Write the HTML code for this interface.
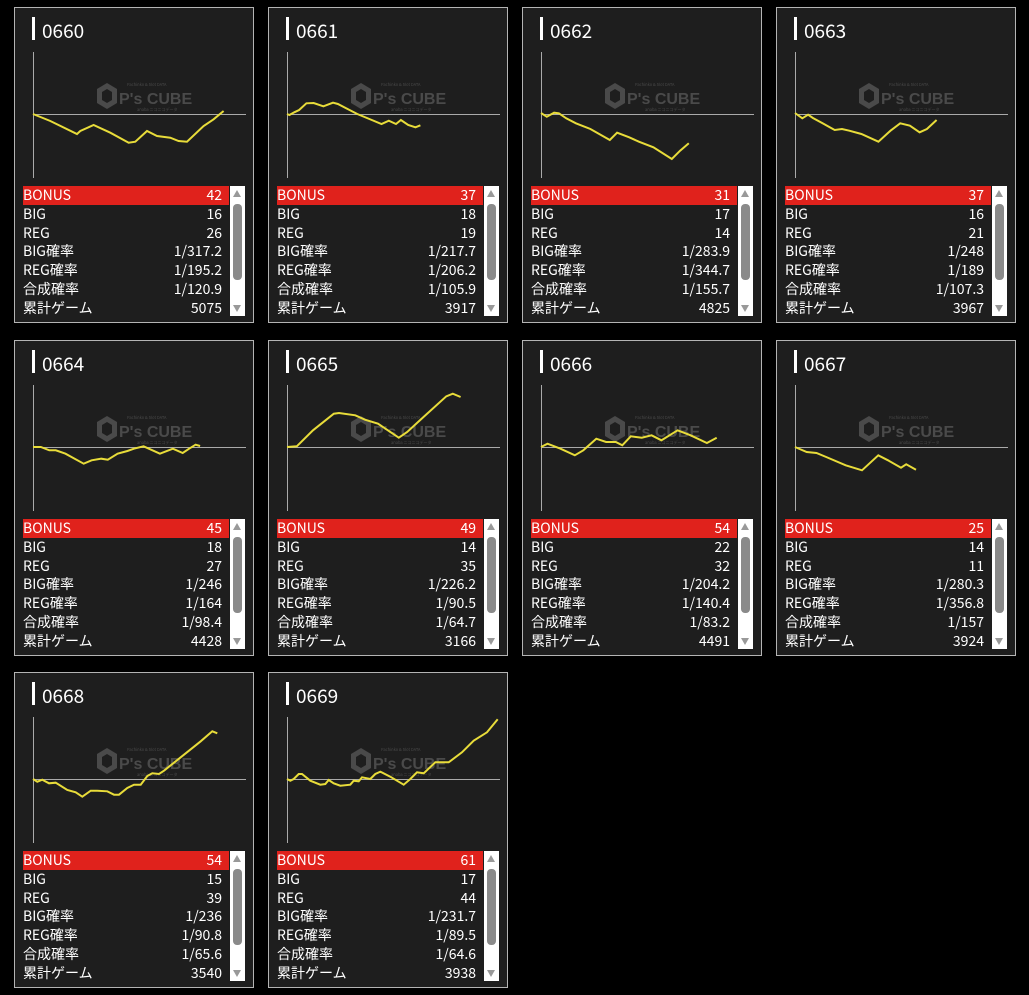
<!DOCTYPE html>
<html><head><meta charset="utf-8"><style>
body{margin:0;background:#000;width:1029px;height:995px;position:relative;overflow:hidden;font-family:"Noto Sans CJK JP","Liberation Sans",sans-serif;}
.c{position:absolute;width:238px;height:314px;border:1px solid #b4b4b4;background:#1e1e1e;}
.bar{position:absolute;left:17px;top:9px;width:3px;height:23px;background:#fff;}
.t{position:absolute;left:27px;top:11px;font-size:19px;line-height:23px;color:#fff;}
svg.g{position:absolute;left:0;top:0;}
.tb{position:absolute;left:8px;top:178px;width:206px;}
.r{height:18.8px;line-height:18.8px;font-size:14px;color:#fff;position:relative;white-space:nowrap;}
.r span{position:absolute;right:7px;top:0;}
.r.b{background:#e0221c;}
.sb{position:absolute;left:215px;top:178px;width:15px;height:130px;background:#fff;}
.th{position:absolute;left:3px;top:18px;width:9px;height:76px;background:#8a8a8a;border-radius:4px;}
.up{position:absolute;left:3px;top:4px;width:0;height:0;border-left:4.5px solid transparent;border-right:4.5px solid transparent;border-bottom:7px solid #999;}
.dn{position:absolute;left:3px;bottom:4px;width:0;height:0;border-left:4.5px solid transparent;border-right:4.5px solid transparent;border-top:7px solid #999;}
</style></head><body>

<div class="c" style="left:14px;top:7px"><div class="bar"></div><div class="t">0660</div>
<svg class="g" width="238" height="180"><g fill="#4a4a4a"><polygon points="92,75 102,81 102,95 92,101 82,95 82,81"/><polygon points="92,81 97,84 97,92 92,95 87,92 87,84" fill="#1e1e1e"/><text x="104" y="96" font-size="16" font-weight="bold" font-family="Liberation Sans">P's CUBE</text><text x="112" y="78" font-size="4">Pachinko &amp; Slot DATA</text><text x="122" y="103" font-size="4">anaba ニコニコデータ</text></g><line x1="18.5" y1="44" x2="18.5" y2="170" stroke="#aaa"/><line x1="18" y1="106.5" x2="231" y2="106.5" stroke="#aaa"/>
<polyline transform="translate(18,106) scale(1,-1)" fill="none" stroke="#e8dc3a" stroke-width="2" points="0,0 17.3,-7 44,-20 47.3,-17 60.6,-11 77.3,-18.7 95.6,-28.7 102.3,-27.7 114,-17 124,-22 137.3,-23.7 145.6,-27 154,-27.7 170.6,-12 180.6,-5.3 190.6,3"/></svg>
<div class="tb"><div class="r b">BONUS<span>42</span></div><div class="r">BIG<span>16</span></div><div class="r">REG<span>26</span></div><div class="r">BIG確率<span>1/317.2</span></div><div class="r">REG確率<span>1/195.2</span></div><div class="r">合成確率<span>1/120.9</span></div><div class="r">累計ゲーム<span>5075</span></div></div>
<div class="sb"><div class="up"></div><div class="th"></div><div class="dn"></div></div></div>

<div class="c" style="left:268px;top:7px"><div class="bar"></div><div class="t">0661</div>
<svg class="g" width="238" height="180"><g fill="#4a4a4a"><polygon points="92,75 102,81 102,95 92,101 82,95 82,81"/><polygon points="92,81 97,84 97,92 92,95 87,92 87,84" fill="#1e1e1e"/><text x="104" y="96" font-size="16" font-weight="bold" font-family="Liberation Sans">P's CUBE</text><text x="112" y="78" font-size="4">Pachinko &amp; Slot DATA</text><text x="122" y="103" font-size="4">anaba ニコニコデータ</text></g><line x1="18.5" y1="44" x2="18.5" y2="170" stroke="#aaa"/><line x1="18" y1="106.5" x2="231" y2="106.5" stroke="#aaa"/>
<polyline transform="translate(18,106) scale(1,-1)" fill="none" stroke="#e8dc3a" stroke-width="2" points="0,0 2.4,-1 7.3,1.7 12.1,4 19.4,10.7 26.7,11 36.4,7.7 46,11.3 50.9,10 60.6,5 70.3,0 84.8,-6 94.5,-10 101.8,-6.7 109,-10 113.9,-6 121.2,-11 128.5,-13.3 133.4,-11.3"/></svg>
<div class="tb"><div class="r b">BONUS<span>37</span></div><div class="r">BIG<span>18</span></div><div class="r">REG<span>19</span></div><div class="r">BIG確率<span>1/217.7</span></div><div class="r">REG確率<span>1/206.2</span></div><div class="r">合成確率<span>1/105.9</span></div><div class="r">累計ゲーム<span>3917</span></div></div>
<div class="sb"><div class="up"></div><div class="th"></div><div class="dn"></div></div></div>

<div class="c" style="left:522px;top:7px"><div class="bar"></div><div class="t">0662</div>
<svg class="g" width="238" height="180"><g fill="#4a4a4a"><polygon points="92,75 102,81 102,95 92,101 82,95 82,81"/><polygon points="92,81 97,84 97,92 92,95 87,92 87,84" fill="#1e1e1e"/><text x="104" y="96" font-size="16" font-weight="bold" font-family="Liberation Sans">P's CUBE</text><text x="112" y="78" font-size="4">Pachinko &amp; Slot DATA</text><text x="122" y="103" font-size="4">anaba ニコニコデータ</text></g><line x1="18.5" y1="44" x2="18.5" y2="170" stroke="#aaa"/><line x1="18" y1="106.5" x2="231" y2="106.5" stroke="#aaa"/>
<polyline transform="translate(18,106) scale(1,-1)" fill="none" stroke="#e8dc3a" stroke-width="2" points="0,1 5.8,-2.7 13.1,1.3 17.9,0.7 25.2,-4.3 34.9,-9.3 49.4,-15 68.8,-26 76.1,-18.7 88.2,-23.3 97.9,-27.7 112.4,-33.3 130.8,-45 139.1,-36.7 147.8,-29.3"/></svg>
<div class="tb"><div class="r b">BONUS<span>31</span></div><div class="r">BIG<span>17</span></div><div class="r">REG<span>14</span></div><div class="r">BIG確率<span>1/283.9</span></div><div class="r">REG確率<span>1/344.7</span></div><div class="r">合成確率<span>1/155.7</span></div><div class="r">累計ゲーム<span>4825</span></div></div>
<div class="sb"><div class="up"></div><div class="th"></div><div class="dn"></div></div></div>

<div class="c" style="left:776px;top:7px"><div class="bar"></div><div class="t">0663</div>
<svg class="g" width="238" height="180"><g fill="#4a4a4a"><polygon points="92,75 102,81 102,95 92,101 82,95 82,81"/><polygon points="92,81 97,84 97,92 92,95 87,92 87,84" fill="#1e1e1e"/><text x="104" y="96" font-size="16" font-weight="bold" font-family="Liberation Sans">P's CUBE</text><text x="112" y="78" font-size="4">Pachinko &amp; Slot DATA</text><text x="122" y="103" font-size="4">anaba ニコニコデータ</text></g><line x1="18.5" y1="44" x2="18.5" y2="170" stroke="#aaa"/><line x1="18" y1="106.5" x2="231" y2="106.5" stroke="#aaa"/>
<polyline transform="translate(18,106) scale(1,-1)" fill="none" stroke="#e8dc3a" stroke-width="2" points="0,1 7.3,-4.3 13.1,-0.7 17.9,-4 27.6,-9.3 39.7,-16 47,-15 54.3,-16.7 66.4,-20 83.4,-27.7 95.5,-16.7 105.2,-9.3 114.9,-11.7 124.6,-18.3 131.9,-15 141.6,-6"/></svg>
<div class="tb"><div class="r b">BONUS<span>37</span></div><div class="r">BIG<span>16</span></div><div class="r">REG<span>21</span></div><div class="r">BIG確率<span>1/248</span></div><div class="r">REG確率<span>1/189</span></div><div class="r">合成確率<span>1/107.3</span></div><div class="r">累計ゲーム<span>3967</span></div></div>
<div class="sb"><div class="up"></div><div class="th"></div><div class="dn"></div></div></div>

<div class="c" style="left:14px;top:340px"><div class="bar"></div><div class="t">0664</div>
<svg class="g" width="238" height="180"><g fill="#4a4a4a"><polygon points="92,75 102,81 102,95 92,101 82,95 82,81"/><polygon points="92,81 97,84 97,92 92,95 87,92 87,84" fill="#1e1e1e"/><text x="104" y="96" font-size="16" font-weight="bold" font-family="Liberation Sans">P's CUBE</text><text x="112" y="78" font-size="4">Pachinko &amp; Slot DATA</text><text x="122" y="103" font-size="4">anaba ニコニコデータ</text></g><line x1="18.5" y1="44" x2="18.5" y2="170" stroke="#aaa"/><line x1="18" y1="106.5" x2="231" y2="106.5" stroke="#aaa"/>
<polyline transform="translate(18,106) scale(1,-1)" fill="none" stroke="#e8dc3a" stroke-width="2" points="0,0 7.8,0 16.3,-3.3 22.8,-3.3 32.5,-6.7 50.7,-16.7 58.6,-13.3 68.3,-11.7 74.8,-12.7 84.6,-6.7 94.4,-4 100.9,-1.7 110.6,0.7 126.9,-6.7 139.9,-1.7 149.7,-6 156.1,-1.7 162.6,2.3 167.1,1"/></svg>
<div class="tb"><div class="r b">BONUS<span>45</span></div><div class="r">BIG<span>18</span></div><div class="r">REG<span>27</span></div><div class="r">BIG確率<span>1/246</span></div><div class="r">REG確率<span>1/164</span></div><div class="r">合成確率<span>1/98.4</span></div><div class="r">累計ゲーム<span>4428</span></div></div>
<div class="sb"><div class="up"></div><div class="th"></div><div class="dn"></div></div></div>

<div class="c" style="left:268px;top:340px"><div class="bar"></div><div class="t">0665</div>
<svg class="g" width="238" height="180"><g fill="#4a4a4a"><polygon points="92,75 102,81 102,95 92,101 82,95 82,81"/><polygon points="92,81 97,84 97,92 92,95 87,92 87,84" fill="#1e1e1e"/><text x="104" y="96" font-size="16" font-weight="bold" font-family="Liberation Sans">P's CUBE</text><text x="112" y="78" font-size="4">Pachinko &amp; Slot DATA</text><text x="122" y="103" font-size="4">anaba ニコニコデータ</text></g><line x1="18.5" y1="44" x2="18.5" y2="170" stroke="#aaa"/><line x1="18" y1="106.5" x2="231" y2="106.5" stroke="#aaa"/>
<polyline transform="translate(18,106) scale(1,-1)" fill="none" stroke="#e8dc3a" stroke-width="2" points="0,0 9.8,0.7 26,16.7 46.8,33.3 52,34 68.3,31.7 78,27.3 91,23.3 111.8,9.3 120.2,15 136.5,30 159.3,50.7 165.8,53.3 173.6,50"/></svg>
<div class="tb"><div class="r b">BONUS<span>49</span></div><div class="r">BIG<span>14</span></div><div class="r">REG<span>35</span></div><div class="r">BIG確率<span>1/226.2</span></div><div class="r">REG確率<span>1/90.5</span></div><div class="r">合成確率<span>1/64.7</span></div><div class="r">累計ゲーム<span>3166</span></div></div>
<div class="sb"><div class="up"></div><div class="th"></div><div class="dn"></div></div></div>

<div class="c" style="left:522px;top:340px"><div class="bar"></div><div class="t">0666</div>
<svg class="g" width="238" height="180"><g fill="#4a4a4a"><polygon points="92,75 102,81 102,95 92,101 82,95 82,81"/><polygon points="92,81 97,84 97,92 92,95 87,92 87,84" fill="#1e1e1e"/><text x="104" y="96" font-size="16" font-weight="bold" font-family="Liberation Sans">P's CUBE</text><text x="112" y="78" font-size="4">Pachinko &amp; Slot DATA</text><text x="122" y="103" font-size="4">anaba ニコニコデータ</text></g><line x1="18.5" y1="44" x2="18.5" y2="170" stroke="#aaa"/><line x1="18" y1="106.5" x2="231" y2="106.5" stroke="#aaa"/>
<polyline transform="translate(18,106) scale(1,-1)" fill="none" stroke="#e8dc3a" stroke-width="2" points="0,0 6.5,3.3 19.5,-1.7 33.8,-8.3 42.3,-3.3 55.3,8.3 65.1,5 74.8,5 81.3,1.7 89.8,10.7 100.8,9.3 110.6,11.7 120.4,6.7 136.6,16.7 149.6,11.7 165.9,4 175.7,9.3"/></svg>
<div class="tb"><div class="r b">BONUS<span>54</span></div><div class="r">BIG<span>22</span></div><div class="r">REG<span>32</span></div><div class="r">BIG確率<span>1/204.2</span></div><div class="r">REG確率<span>1/140.4</span></div><div class="r">合成確率<span>1/83.2</span></div><div class="r">累計ゲーム<span>4491</span></div></div>
<div class="sb"><div class="up"></div><div class="th"></div><div class="dn"></div></div></div>

<div class="c" style="left:776px;top:340px"><div class="bar"></div><div class="t">0667</div>
<svg class="g" width="238" height="180"><g fill="#4a4a4a"><polygon points="92,75 102,81 102,95 92,101 82,95 82,81"/><polygon points="92,81 97,84 97,92 92,95 87,92 87,84" fill="#1e1e1e"/><text x="104" y="96" font-size="16" font-weight="bold" font-family="Liberation Sans">P's CUBE</text><text x="112" y="78" font-size="4">Pachinko &amp; Slot DATA</text><text x="122" y="103" font-size="4">anaba ニコニコデータ</text></g><line x1="18.5" y1="44" x2="18.5" y2="170" stroke="#aaa"/><line x1="18" y1="106.5" x2="231" y2="106.5" stroke="#aaa"/>
<polyline transform="translate(18,106) scale(1,-1)" fill="none" stroke="#e8dc3a" stroke-width="2" points="0,0 11.7,-5 21.5,-6 31.2,-10 50.7,-18.3 67,-23.3 83.3,-8.3 93,-13.3 106,-20.7 111.2,-17.3 121,-22.7"/></svg>
<div class="tb"><div class="r b">BONUS<span>25</span></div><div class="r">BIG<span>14</span></div><div class="r">REG<span>11</span></div><div class="r">BIG確率<span>1/280.3</span></div><div class="r">REG確率<span>1/356.8</span></div><div class="r">合成確率<span>1/157</span></div><div class="r">累計ゲーム<span>3924</span></div></div>
<div class="sb"><div class="up"></div><div class="th"></div><div class="dn"></div></div></div>

<div class="c" style="left:14px;top:672px"><div class="bar"></div><div class="t">0668</div>
<svg class="g" width="238" height="180"><g fill="#4a4a4a"><polygon points="92,75 102,81 102,95 92,101 82,95 82,81"/><polygon points="92,81 97,84 97,92 92,95 87,92 87,84" fill="#1e1e1e"/><text x="104" y="96" font-size="16" font-weight="bold" font-family="Liberation Sans">P's CUBE</text><text x="112" y="78" font-size="4">Pachinko &amp; Slot DATA</text><text x="122" y="103" font-size="4">anaba ニコニコデータ</text></g><line x1="18.5" y1="44" x2="18.5" y2="170" stroke="#aaa"/><line x1="18" y1="106.5" x2="231" y2="106.5" stroke="#aaa"/>
<polyline transform="translate(18,106) scale(1,-1)" fill="none" stroke="#e8dc3a" stroke-width="2" points="0,0 4.3,-2.7 9.3,-0.7 16,-4.3 22.7,-3.7 34.3,-11 42.7,-13.3 49.3,-17.7 57.7,-11.7 64.3,-11.7 74.3,-12.3 81,-15.7 86,-15.7 94.3,-9 101,-5.7 107.7,-5.7 114.3,3 119.3,5.7 126,5 131,8.3 147.7,21.7 167.7,37.7 179.3,47.7 184.3,45.7"/></svg>
<div class="tb"><div class="r b">BONUS<span>54</span></div><div class="r">BIG<span>15</span></div><div class="r">REG<span>39</span></div><div class="r">BIG確率<span>1/236</span></div><div class="r">REG確率<span>1/90.8</span></div><div class="r">合成確率<span>1/65.6</span></div><div class="r">累計ゲーム<span>3540</span></div></div>
<div class="sb"><div class="up"></div><div class="th"></div><div class="dn"></div></div></div>

<div class="c" style="left:268px;top:672px"><div class="bar"></div><div class="t">0669</div>
<svg class="g" width="238" height="180"><g fill="#4a4a4a"><polygon points="92,75 102,81 102,95 92,101 82,95 82,81"/><polygon points="92,81 97,84 97,92 92,95 87,92 87,84" fill="#1e1e1e"/><text x="104" y="96" font-size="16" font-weight="bold" font-family="Liberation Sans">P's CUBE</text><text x="112" y="78" font-size="4">Pachinko &amp; Slot DATA</text><text x="122" y="103" font-size="4">anaba ニコニコデータ</text></g><line x1="18.5" y1="44" x2="18.5" y2="170" stroke="#aaa"/><line x1="18" y1="106.5" x2="231" y2="106.5" stroke="#aaa"/>
<polyline transform="translate(18,106) scale(1,-1)" fill="none" stroke="#e8dc3a" stroke-width="2" points="0,0 3.3,-1.7 6.7,0 11.7,5 15,5 23.3,-1.7 33.3,-5.7 38.3,-5 41.7,-1 46.7,-4.3 53.3,-6.7 63.3,-5.7 66.7,-1.7 71.7,-2.3 75,1.7 83.3,0 88.3,5 93.3,7.3 103.3,2.3 116.7,-5.7 123.3,0 130,6.7 136.7,5.7 148.3,16.7 161.7,16.7 175,26.7 186.7,38.3 200,46.7 210.7,59.7"/></svg>
<div class="tb"><div class="r b">BONUS<span>61</span></div><div class="r">BIG<span>17</span></div><div class="r">REG<span>44</span></div><div class="r">BIG確率<span>1/231.7</span></div><div class="r">REG確率<span>1/89.5</span></div><div class="r">合成確率<span>1/64.6</span></div><div class="r">累計ゲーム<span>3938</span></div></div>
<div class="sb"><div class="up"></div><div class="th"></div><div class="dn"></div></div></div>

</body></html>
